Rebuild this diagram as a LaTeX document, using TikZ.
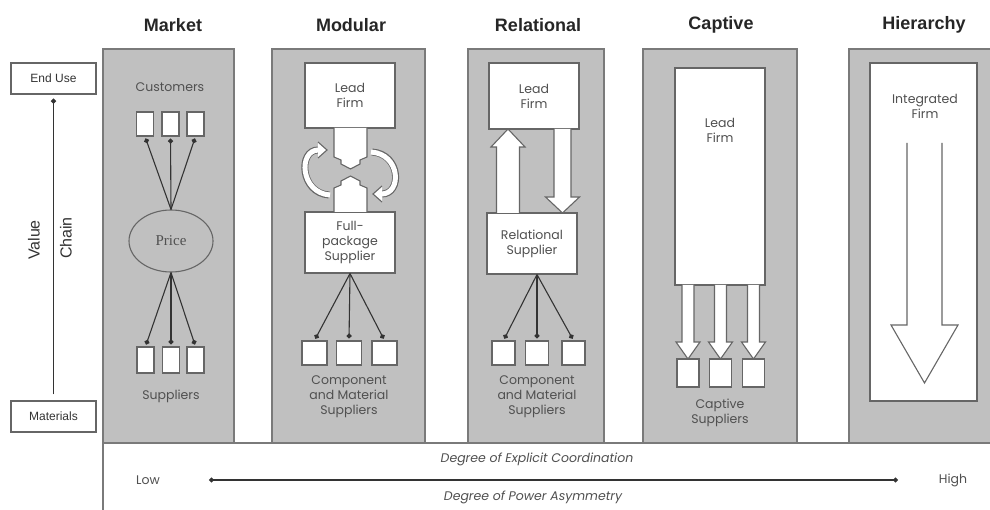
\documentclass[tikz,border=0pt]{standalone}
\usepackage{fontspec}
\setmainfont{Liberation Sans}
\newfontfamily\gothic{Poppins}
\newfontfamily\priceface{Liberation Serif}
\usetikzlibrary{arrows.meta,shapes.geometric}
\definecolor{panelgray}{HTML}{C0C0C0}
\definecolor{panelline}{HTML}{7A7A7A}
\definecolor{boxline}{HTML}{666666}
\definecolor{labelgray}{HTML}{505050}
\definecolor{linegray}{HTML}{333333}

% white block arrow pointing down: x centre, top, head base, tip, shaft half width, head half width
\newcommand\gvcdownarrow[6]{%
  \draw[block] (#1-#5,#2) -- (#1-#5,#3) -- (#1-#6,#3) -- (#1,#4) -- (#1+#6,#3) -- (#1+#5,#3) -- (#1+#5,#2);}

\begin{document}
\begin{tikzpicture}[x=1pt,y=-1pt,
  panel/.style={fill=panelgray,draw=panelline,line width=1.3pt},
  wbox/.style={draw=boxline,fill=white,line width=1.1pt,inner sep=0pt},
  gtext/.style={font=\gothic\fontsize{12.5}{15}\selectfont,text=labelgray,align=center,inner sep=0pt},
  title/.style={font=\bfseries\fontsize{18}{20}\selectfont,text=black!85},
  sidetext/.style={font=\fontsize{12}{14}\selectfont,text=black!80},
  link/.style={draw=linegray,line width=1.1pt,-{Circle[length=5pt]},shorten >=2pt},
  block/.style={draw=boxline,fill=white,line width=1.1pt,line join=miter},
]
\useasboundingbox (0,0) rectangle (990,510);
\fill[white] (0,0) rectangle (990,510);

% ---- column panels
\draw[panel] (103,49) rectangle (234,443);
\draw[panel] (272,49) rectangle (425,443);
\draw[panel] (468,49) rectangle (604,443);
\draw[panel] (643,49) rectangle (797,443);
\draw[panel] (849,49) rectangle (993,443);

% ---- lower band
\draw[draw=panelline,line width=1.3pt] (103,513) -- (103,443) -- (993,443);

% ---- column titles
\node[title] (tmarket) at (173,25) {Market};
\node[title] (tmodular) at (351,25) {Modular};
\node[title] (trelational) at (538,25) {Relational};
\node[title] (tcaptive) at (721,25) {Captive};
\node[title] (thierarchy) at (924,25) {Hierarchy};

% ---- value chain axis
\node[wbox,sidetext,minimum width=85,minimum height=31] (enduse) at (53.5,78.5) {End Use};
\node[wbox,sidetext,minimum width=85,minimum height=31] (materials) at (53.5,416.5) {Materials};
\draw[linegray,line width=1.3pt,-{Circle[length=5pt]},shorten <=6pt,shorten >=4pt]
  (materials.north) -- (enduse.south);
\node[font=\fontsize{16}{18}\selectfont,text=black!80,rotate=90] (value) at (34,240) {Value};
\node[font=\fontsize{16}{18}\selectfont,text=black!80,rotate=90] (chain) at (66,238) {Chain};

% ---- Market
\node[gtext] (customers) at (170,87) {Customers};
\node[wbox,minimum width=17,minimum height=24] (c1) at (145,124) {};
\node[wbox,minimum width=17,minimum height=24] (c2) at (170.5,124) {};
\node[wbox,minimum width=17,minimum height=24] (c3) at (195.5,124) {};
\node[ellipse,draw=boxline,fill=panelgray,line width=1.1pt,minimum width=84,minimum height=62,
  font=\priceface\fontsize{15}{17}\selectfont,text=labelgray] (price) at (171,241) {Price};
\foreach \c in {c1,c2,c3} \draw[link] (price.north) -- (\c.south);
\node[wbox,minimum width=17,minimum height=26] (s1) at (145.5,360) {};
\node[wbox,minimum width=17,minimum height=26] (s2) at (171,360) {};
\node[wbox,minimum width=17,minimum height=26] (s3) at (195.5,360) {};
\foreach \s in {s1,s2,s3} \draw[link] (price.south) -- (\s.north);
\node[gtext] (msuppliers) at (171,396) {Suppliers};

% ---- Modular
\node[wbox,gtext,minimum width=90,minimum height=65] (mlead) at (350,95.5) {Lead\\Firm};
\node[wbox,gtext,minimum width=90,minimum height=61] (full) at (350,242.5) {Full-\\package\\Supplier};
% interlocking link pieces
\draw[block] (334,128) -- (334,157) -- (341,160) -- (341,164) -- (350.5,169) -- (360,164) -- (360,160) -- (367,157) -- (367,128);
\draw[block] (334,212) -- (334,188) -- (341,185) -- (341,181) -- (350.5,176) -- (360,181) -- (360,185) -- (367,188) -- (367,212);
% rotating arrows around the link
\draw[boxline,line width=7pt] (329,195) .. controls (300,193) and (298,150) .. (318,150);
\draw[white,line width=5pt] (330,195) .. controls (300,193) and (298,150) .. (318.5,150);
\draw[block] (318,142) -- (327,150) -- (318,158);
\draw[boxline,line width=7pt] (372,152) .. controls (401,154) and (402,194) .. (382,194);
\draw[white,line width=5pt] (371,152) .. controls (401,154) and (402,194) .. (381.5,194);
\draw[block] (382,186) -- (373,194) -- (382,202);
\node[wbox,minimum width=25,minimum height=24] (m1) at (314.5,353) {};
\node[wbox,minimum width=25,minimum height=24] (m2) at (349,353) {};
\node[wbox,minimum width=25,minimum height=24] (m3) at (384.5,353) {};
\foreach \m in {m1,m2,m3} \draw[link] (full.south) -- (\m.north);
\node[gtext] (msup) at (349,397) {Component\\and Material\\Suppliers};

% ---- Relational
\node[wbox,gtext,minimum width=90,minimum height=66] (rlead) at (534,96) {Lead\\Firm};
\node[wbox,gtext,minimum width=90,minimum height=61] (rsup) at (532,243.5) {Relational\\Supplier};
\draw[block] (496.5,213) -- (496.5,147) -- (491,147) -- (508,129) -- (525,147) -- (519.5,147) -- (519.5,213);
\gvcdownarrow{562.5}{129}{197}{213}{8.5}{17}
\node[wbox,minimum width=23,minimum height=24] (r1) at (503.5,353) {};
\node[wbox,minimum width=23,minimum height=24] (r2) at (537,353) {};
\node[wbox,minimum width=23,minimum height=24] (r3) at (573.5,353) {};
\foreach \r in {r1,r2,r3} \draw[link] (rsup.south -| r2.north) -- (\r.north);
\node[gtext] (rcomp) at (537,397) {Component\\and Material\\Suppliers};

% ---- Captive
\node[wbox,minimum width=90,minimum height=217] (clead) at (720,176.5) {};
\node[gtext] (cleadtext) at (720,130.5) {Lead\\Firm};
\gvcdownarrow{688}{285}{342}{359}{6}{12}
\gvcdownarrow{720.5}{285}{342}{359}{6}{12}
\gvcdownarrow{753.5}{285}{342}{359}{6}{12}
\node[wbox,minimum width=22,minimum height=28] (k1) at (688,373) {};
\node[wbox,minimum width=22,minimum height=28] (k2) at (720.5,373) {};
\node[wbox,minimum width=22,minimum height=28] (k3) at (753.5,373) {};
\node[gtext] (csup) at (720,413) {Captive\\Suppliers};

% ---- Hierarchy
\node[wbox,minimum width=107,minimum height=338] (hfirm) at (923.5,232) {};
\node[gtext] (hfirmtext) at (925,106) {Integrated\\Firm};
\gvcdownarrow{924.5}{143}{325}{383}{17.5}{33.5}

% ---- coordination scale
\node[gtext] (low) at (148,480) {Low};
\node[gtext] (high) at (953,480) {High};
\coordinate (lowend) at (209,480);
\coordinate (highend) at (898,480);
\draw[linegray,line width=1.1pt,{Circle[length=5pt]}-{Circle[length=5pt]}] (lowend) -- (highend);
\node[gtext,font=\gothic\itshape\fontsize{12.5}{15}\selectfont] (coord) at (537,459) {Degree of Explicit Coordination};
\node[gtext,font=\gothic\itshape\fontsize{12.5}{15}\selectfont] (power) at (533,497) {Degree of Power Asymmetry};
\end{tikzpicture}
\end{document}
